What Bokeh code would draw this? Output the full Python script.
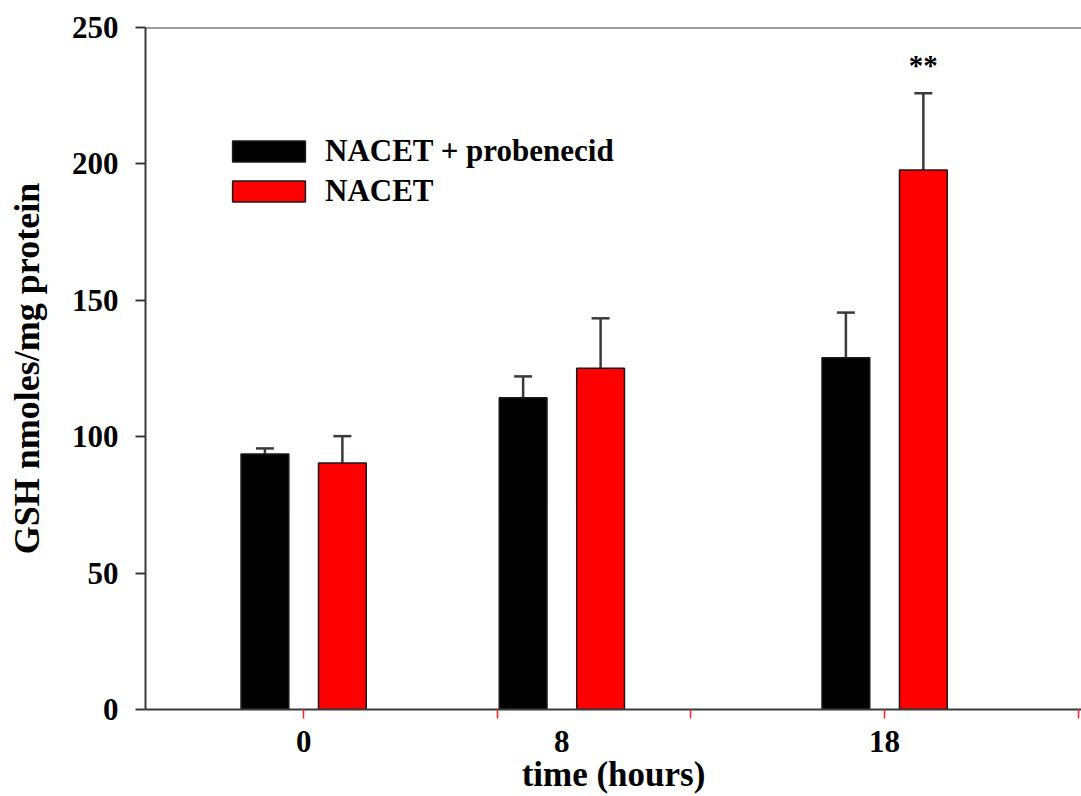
from bokeh.plotting import figure
from bokeh.models import (ColumnDataSource, Range1d, FixedTicker, Whisker, TeeHead,
                          Legend, LegendItem, Span)
from bokeh.transform import dodge
from bokeh.core.properties import value
from bokeh.embed import file_html
from bokeh.resources import INLINE

# ---- data ----
hours = [0, 8, 18]
tick_labels = ["0", "8", "18"]
minor_hours = [0, 6, 12, 18, 24]
nacet_probenecid = [93.7, 114.3, 128.9]
nacet_probenecid_err = [2.0, 7.8, 16.6]
nacet = [90.4, 125.1, 197.8]
nacet_err = [9.8, 18.3, 28.1]
series_names = ["NACET + probenecid", "NACET"]
significance = ["", "", "**"]

FONT = "Liberation Serif"
AXIS_C = "#3a3a3a"

src = ColumnDataSource(dict(
    hours=hours,
    p_val=nacet_probenecid,
    p_up=[v + e for v, e in zip(nacet_probenecid, nacet_probenecid_err)],
    n_val=nacet,
    n_up=[v + e for v, e in zip(nacet, nacet_err)],
    sig=significance,
))

p = figure(width=1081, height=796, output_backend="svg", toolbar_location=None,
           x_range=Range1d(-4.9, 24.1), y_range=Range1d(0, 250),
           min_border_left=145, min_border_right=0, min_border_top=27, min_border_bottom=87)
p.outline_line_color = None
p.xgrid.visible = False
p.ygrid.visible = False
p.background_fill_color = "white"

off = 1.2
bw = 1.48
r_black = p.vbar(x=dodge("hours", -off, range=p.x_range), top="p_val", bottom=0, width=bw,
                 source=src, fill_color="black", line_color="#1a1a1a", line_width=1.5)
r_red = p.vbar(x=dodge("hours", off, range=p.x_range), top="n_val", bottom=0, width=bw,
               source=src, fill_color="#ff0000", line_color="#1a1a1a", line_width=1.5)

for base, lo, up in [(dodge("hours", -off, range=p.x_range), "p_val", "p_up"),
                     (dodge("hours", off, range=p.x_range), "n_val", "n_up")]:
    w = Whisker(source=src, base=base, lower=lo, upper=up,
                upper_head=TeeHead(size=18, line_color=AXIS_C, line_width=2.5),
                lower_head=None, line_color=AXIS_C, line_width=2.5)
    p.add_layout(w)

p.text(x=dodge("hours", off, range=p.x_range), y="n_up", text="sig", source=src,
       text_font=value(FONT), text_font_style="bold", text_font_size="29px",
       text_align="center", text_baseline="middle", y_offset=-28, text_color="black")

# top line
p.add_layout(Span(location=250, dimension="width", line_color=AXIS_C, line_width=2))

# y axis
yax = p.yaxis[0]
yax.ticker = FixedTicker(ticks=[0, 50, 100, 150, 200, 250])
yax.axis_label = "GSH nmoles/mg protein"
yax.axis_line_color = AXIS_C
yax.axis_line_width = 2
yax.major_tick_line_color = AXIS_C
yax.major_tick_line_width = 2
yax.major_tick_out = 10
yax.major_tick_in = 0
yax.minor_tick_line_color = None
yax.major_label_text_font = FONT
yax.major_label_text_font_style = "bold"
yax.major_label_text_font_size = "31px"
yax.major_label_text_color = "black"
yax.major_label_standoff = 17
yax.axis_label_text_font = FONT
yax.axis_label_text_font_style = "bold"
yax.axis_label_text_font_size = "36px"
yax.axis_label_text_color = "black"
yax.axis_label_standoff = 22

# x axis
xax = p.xaxis[0]
xax.ticker = FixedTicker(ticks=hours, minor_ticks=minor_hours)
xax.major_label_overrides = {h: t for h, t in zip(hours, tick_labels)}
xax.axis_label = "time (hours)"
xax.axis_line_color = AXIS_C
xax.axis_line_width = 2
xax.major_tick_line_color = None
xax.major_tick_out = 0
xax.major_tick_in = 0
xax.minor_tick_line_color = "#ff2020"
xax.minor_tick_line_width = 1.5
xax.minor_tick_out = 9
xax.minor_tick_in = 0
xax.major_label_text_font = FONT
xax.major_label_text_font_style = "bold"
xax.major_label_text_font_size = "31px"
xax.major_label_text_color = "black"
xax.major_label_standoff = 12
xax.axis_label_text_font = FONT
xax.axis_label_text_font_style = "bold"
xax.axis_label_text_font_size = "35px"
xax.axis_label_text_color = "black"
xax.axis_label_standoff = 0

legend = Legend(items=[LegendItem(label=series_names[0], renderers=[r_black]),
                       LegendItem(label=series_names[1], renderers=[r_red])],
                location=(78, 500), orientation="vertical",
                glyph_width=91, glyph_height=26, label_height=26, label_standoff=11,
                spacing=4, padding=0, margin=0,
                border_line_color=None, background_fill_alpha=0,
                label_text_font=FONT, label_text_font_style="bold",
                label_text_font_size="31px", label_text_color="black")
p.add_layout(legend)

open("out.html", "w").write(file_html(p, INLINE))
